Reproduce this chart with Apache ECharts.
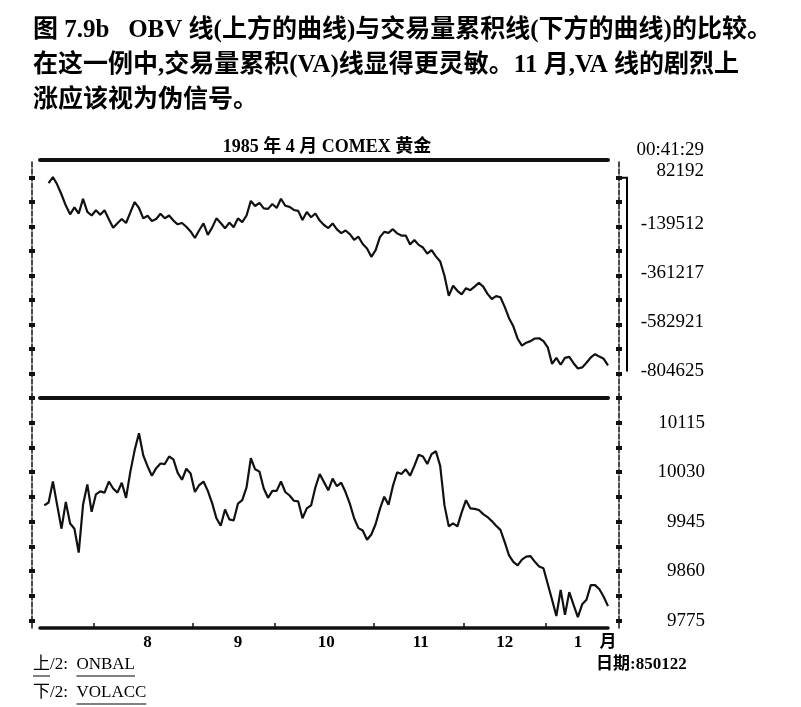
<!DOCTYPE html>
<html><head><meta charset="utf-8">
<script src="https://cdn.jsdelivr.net/npm/echarts@6/dist/echarts.min.js"></script>
<style>html,body{margin:0;padding:0;background:#fff}#c{width:801px;height:707px}</style>
</head><body><div id="c"></div>
<script>
// ---- data ----
const monthNames = ['7', '8', '9', '10', '11', '12', '1'];
const monthDays = [11, 23, 19, 23, 21, 19, 15];          // trading days shown per month
const xLabelNames = ['8', '9', '10', '11', '12', '1', '月'];
const xLabelDays = [23, 44, 64.5, 86.5, 106, 123, 130];
const obvTickLabels = [82192, -139512, -361217, -582921, -804625];
const vaTickLabels = [10115, 10030, 9945, 9860, 9775];
const obvStartDay = 0;
const obvValues = [
  58000, 85000, 51000, 6000, -44000, -84000, -52000, -80000, -14000, -73000,
  -89000, -65000, -86000, -65000, -106000, -145000, -124000, -105000, -123000, -75000,
  -28000, -55000, -102000, -90000, -114000, -105000, -81000, -102000, -89000, -112000,
  -129000, -123000, -140000, -161000, -191000, -156000, -125000, -177000, -144000, -102000,
  -123000, -147000, -121000, -142000, -102000, -119000, -89000, -23000, -46000, -32000,
  -57000, -59000, -37000, -55000, -13000, -45000, -50000, -64000, -68000, -109000,
  -73000, -97000, -80000, -112000, -132000, -146000, -125000, -152000, -169000, -157000,
  -173000, -199000, -185000, -218000, -238000, -276000, -246000, -187000, -163000, -168000,
  -151000, -170000, -180000, -180000, -220000, -200000, -222000, -234000, -262000, -246000,
  -274000, -297000, -362000, -453000, -407000, -430000, -446000, -418000, -427000, -411000,
  -394000, -411000, -444000, -467000, -454000, -459000, -503000, -554000, -591000, -647000,
  -678000, -665000, -658000, -646000, -645000, -658000, -686000, -761000, -734000, -765000,
  -734000, -729000, -758000, -782000, -777000, -756000, -732000, -717000, -728000, -738000,
  -768000
];
const vaStartDay = -1;
const vaValues = [
  9973, 9978, 10014, 9973, 9933, 9979, 9942, 9933, 9892, 9974,
  10009, 9962, 9992, 9997, 9995, 10014, 10002, 9995, 10012, 9986,
  10031, 10068, 10097, 10059, 10040, 10024, 10037, 10045, 10044, 10057,
  10052, 10029, 10017, 10036, 10028, 9996, 10008, 10014, 9998, 9977,
  9951, 9938, 9966, 9949, 9947, 9976, 9982, 10004, 10054, 10035,
  10031, 10002, 9986, 9998, 9998, 10014, 9996, 9990, 9981, 9980,
  9951, 9968, 9973, 10004, 10027, 10013, 9999, 10019, 10006, 10012,
  9996, 9976, 9951, 9934, 9930, 9914, 9923, 9941, 9967, 9988,
  9974, 10006, 10030, 10027, 10035, 10024, 10041, 10060, 10057, 10044,
  10061, 10066, 10041, 9973, 9937, 9942, 9937, 9961, 9982, 9968,
  9967, 9965, 9958, 9953, 9946, 9938, 9931, 9910, 9887, 9876,
  9870, 9880, 9885, 9886, 9876, 9868, 9865, 9838, 9811, 9783,
  9828, 9785, 9824, 9802, 9781, 9803, 9811, 9836, 9836, 9829,
  9816, 9800
];
const obvRange = [-915477, 162277];
const vaRange = [9762.4, 10157.5];

// ---- derived ----
const boundaries = [];
{ let s = 0; for (let k = 0; k < monthDays.length - 1; k++) { s += monthDays[k]; boundaries.push(s - 0.5); } }
function withMid(labels, extra) {
  const out = labels.slice();
  for (let k = 0; k < labels.length - 1; k++) out.push((labels[k] + labels[k + 1]) / 2);
  out.push(extra);
  return out;
}
const obvTicks = withMid(obvTickLabels, obvRange[0]);
const vaTicks = withMid(vaTickLabels, vaRange[1]);
const obvData = obvValues.map((v, k) => [obvStartDay + k, v]);
const vaData = vaValues.map((v, k) => [vaStartDay + k, v]);

const SERIF = '"Liberation Serif", "Times New Roman", serif';
const MIX = '"Liberation Serif", "Noto Sans CJK SC", serif';
const INK = '#111';

function yAx(grid, pos, offset, range, ticks, inside, labelCfg, lineShow) {
  return {
    type: 'value', gridIndex: grid, position: pos, offset: offset,
    min: range[0], max: range[1],
    splitLine: { show: false },
    axisLine: { show: lineShow, onZero: false, lineStyle: { color: INK, width: 1.5, type: [5, 2] } },
    axisTick: { show: true, inside: inside, length: 3, customValues: ticks, lineStyle: { color: INK, width: 4 } },
    axisLabel: labelCfg || { show: false }
  };
}
function xLine(grid, pos, width) {
  return { type: 'value', gridIndex: grid, position: pos, min: -2, max: 130,
    axisLine: { onZero: false, lineStyle: { color: INK, width: width } },
    axisTick: { show: false }, axisLabel: { show: false }, splitLine: { show: false } };
}

const chart = echarts.init(document.getElementById('c'), null, { renderer: 'canvas' });
const xBottom = xLine(1, 'bottom', 3.5);
xBottom.axisTick = { show: true, inside: true, length: 5, customValues: boundaries, lineStyle: { color: INK, width: 1.5 } };
xBottom.axisLabel = { show: true, customValues: xLabelDays, margin: 6, color: '#000',
  fontFamily: MIX, fontWeight: 'bold', fontSize: 17,
  formatter: function (v) { let b = 0; for (let k = 0; k < xLabelDays.length; k++) if (Math.abs(xLabelDays[k] - v) < Math.abs(xLabelDays[b] - v)) b = k; return xLabelNames[b]; } };

const option = {
  animation: false,
  backgroundColor: '#fff',
  grid: [
    { left: 40, right: 193, top: 160, height: 238 },
    { left: 40, right: 193, top: 398, height: 230 }
  ],
  xAxis: [ xLine(0, 'top', 4), xLine(0, 'bottom', 4), xBottom ],
  yAxis: [
    yAx(0, 'right', 11, obvRange, obvTicks, false,
      { show: true, customValues: obvTickLabels, align: 'right', margin: 85,
        fontFamily: SERIF, fontSize: 19, color: '#000', padding: [0, 0, 6, 0],
        formatter: v => (v === obvTickLabels[0] ? '{hi|' + v + '}' : String(v)),
        rich: { hi: { fontFamily: SERIF, fontSize: 19, color: '#000', padding: [0, 0, 8, 0] } } }, true),
    yAx(0, 'right', 11, obvRange, obvTicks, true, null, false),
    yAx(0, 'left', 8, obvRange, obvTicks, false, null, true),
    yAx(0, 'left', 8, obvRange, obvTicks, true, null, false),
    yAx(1, 'right', 11, vaRange, vaTicks, false,
      { show: true, customValues: vaTickLabels, formatter: v => String(v), align: 'right', margin: 86,
        fontFamily: SERIF, fontSize: 19, color: '#000' }, true),
    yAx(1, 'right', 11, vaRange, vaTicks, true, null, false),
    yAx(1, 'left', 8, vaRange, vaTicks, false, null, true),
    yAx(1, 'left', 8, vaRange, vaTicks, true, null, false)
  ],
  series: [
    { name: 'ONBAL', type: 'line', xAxisIndex: 0, yAxisIndex: 0, data: obvData, symbol: 'none',
      lineStyle: { color: INK, width: 2.2 } },
    { name: 'VOLACC', type: 'line', xAxisIndex: 2, yAxisIndex: 4, data: vaData, symbol: 'none',
      lineStyle: { color: INK, width: 2.2 } }
  ]
};
chart.setOption(option);

// ---- texts & decorations ----
const cv = document.createElement('canvas').getContext('2d');
function tw(text, size, weight, fam) { cv.font = (weight || 'normal') + ' ' + size + 'px ' + fam; return cv.measureText(text).width; }
function txt(text, x, y, size, weight, fam, align) {
  return { type: 'text', x: x, y: y, silent: true,
    style: { text: text, fill: '#000', fontSize: size, fontWeight: weight || 'normal', fontFamily: fam || SERIF,
      align: align || 'left', verticalAlign: 'middle' } };
}
function uline(x1, x2, y) {
  return { type: 'line', silent: true, shape: { x1: x1, y1: y, x2: x2, y2: y }, style: { stroke: '#000', lineWidth: 1 } };
}
const captions = [
  '图 7.9b   OBV 线(上方的曲线)与交易量累积线(下方的曲线)的比较。',
  '在这一例中,交易量累积(VA)线显得更灵敏。11 月,VA 线的剧烈上',
  '涨应该视为伪信号。'
];
const g = [];
g.push(txt(captions[0], 33, 31, 25, 'bold', MIX));
g.push(txt(captions[1], 33, 66, 25, 'bold', MIX));
g.push(txt(captions[2], 33, 101, 25, 'bold', MIX));
g.push(txt('1985 年 4 月 COMEX 黄金', 327, 147, 18, 'bold', MIX, 'center'));
g.push(txt('00:41:29', 704, 150, 19, 'normal', SERIF, 'right'));

const fs = 17;
const w1 = tw('上', fs, 'normal', MIX), w2 = tw('/2:  ', fs, 'normal', MIX), w3 = tw('ONBAL', fs, 'normal', MIX);
g.push(txt('上', 33, 665, fs, 'normal', MIX));
g.push(txt('/2:  ', 33 + w1, 665, fs, 'normal', MIX));
g.push(txt('ONBAL', 33 + w1 + w2, 665, fs, 'normal', MIX));
g.push(uline(33, 33 + w1, 676));
g.push(uline(33 + w1 + w2, 33 + w1 + w2 + w3, 676));
const v1 = tw('下', fs, 'normal', MIX), v2 = tw('/2:  ', fs, 'normal', MIX), v3 = tw('VOLACC', fs, 'normal', MIX);
g.push(txt('下', 33, 693, fs, 'normal', MIX));
g.push(txt('/2:  ', 33 + v1, 693, fs, 'normal', MIX));
g.push(txt('VOLACC', 33 + v1 + v2, 693, fs, 'normal', MIX));
g.push(uline(33 + v1 + v2, 33 + v1 + v2 + v3, 704));
g.push(txt('日期:850122', 596, 665, 17, 'bold', MIX));

// bracket on the right of the upper panel, spanning its labelled range
const yTop = chart.convertToPixel({ yAxisIndex: 0 }, obvTickLabels[0]);
const yBot = chart.convertToPixel({ yAxisIndex: 0 }, obvTickLabels[obvTickLabels.length - 1]);
g.push({ type: 'polyline', silent: true,
  shape: { points: [[617, yTop], [627, yTop], [627, yBot - 2]] },
  style: { stroke: '#000', lineWidth: 2, fill: null } });

chart.setOption({ graphic: g });
</script>
</body></html>
